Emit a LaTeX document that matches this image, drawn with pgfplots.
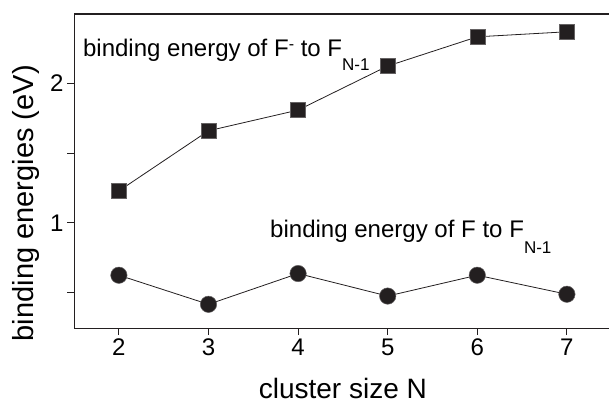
\documentclass[border=0pt]{standalone}
\usepackage{fontspec}
\setmainfont{Liberation Sans}
\usepackage{pgfplots}
\pgfplotsset{compat=1.18}
\definecolor{ink}{HTML}{231F20}
\begin{document}
\begin{tikzpicture}
% shared frame of the three axes
\pgfplotsset{frame/.style={
    scale only axis, width=537pt, height=313.7pt,
    xmin=1.5, xmax=7.5, ymin=0.248, ymax=2.494,
    axis line style={line width=1.1pt, ink},
    every tick/.style={line width=0.9pt, ink},
}}
% top ticks, pointing in
\begin{axis}[frame, axis y line*=left,
    xtick=\empty, ytick=\empty,
    minor xtick={2,2.5,...,7}, xtick pos=right,
    tick align=inside, minor tick length=5pt]
\end{axis}
% small bottom ticks between the numbers
\begin{axis}[frame, axis y line*=left,
    xtick=\empty, ytick=\empty,
    minor xtick={2.5,3.5,...,6.5}, xtick pos=left,
    tick align=inside, minor tick length=4pt]
\end{axis}
\begin{axis}[frame, name=ax, clip=false,
    axis y line*=left,
    xtick={2,...,7}, ytick={1,2},
    minor ytick={0.5,1.5},
    xtick pos=left, ytick pos=left,
    tick align=outside, major tick length=7pt, minor tick length=7pt,
    /pgf/number format/assume math mode=true,
    tick label style={font=\fontsize{24}{24}\selectfont},
]
% binding energy of F- to F_{N-1}
\addplot[line width=0.8pt, ink, mark=square*, mark size=7.5pt,
    mark options={fill=ink, draw=ink!70, line width=0.5pt}]
    coordinates {(2,1.229) (3,1.659) (4,1.807) (5,2.122) (6,2.331) (7,2.367)};
% binding energy of F to F_{N-1}
\addplot[line width=0.8pt, ink, mark=*, mark size=8.2pt,
    mark options={fill=ink, draw=ink!70, line width=0.5pt}]
    coordinates {(2,0.626) (3,0.418) (4,0.638) (5,0.477) (6,0.626) (7,0.490)};

\node[anchor=base west, inner sep=0pt, font=\fontsize{24}{24}\selectfont]
    at (axis cs:1.598,2.19)
    {binding energy of F\raisebox{7pt}{\fontsize{16}{16}\selectfont -} to F\raisebox{-14pt}{\fontsize{17}{17}\selectfont N-1}};
\node[anchor=base west, inner sep=0pt, font=\fontsize{24}{24}\selectfont]
    at (axis cs:3.687,0.898)
    {binding energy of F to F\raisebox{-16pt}{\fontsize{17}{17}\selectfont N-1}};

\node[anchor=base, inner sep=0pt, font=\fontsize{28}{28}\selectfont]
    at ([yshift=-70pt]axis cs:4.5,0.248) {cluster size N};
\node[anchor=base, rotate=90, inner sep=0pt, font=\fontsize{29}{29}\selectfont]
    at ([xshift=-41pt]axis cs:1.5,1.141) {binding energies (eV)};
\coordinate (sw) at (axis cs:1.5,0.248);
\coordinate (ne) at (axis cs:7.47,2.494);
\end{axis}
\pgfresetboundingbox
\path[use as bounding box] ([xshift=-74pt,yshift=-75.3pt]sw) rectangle ([yshift=14pt]ne);
\end{tikzpicture}
\end{document}
